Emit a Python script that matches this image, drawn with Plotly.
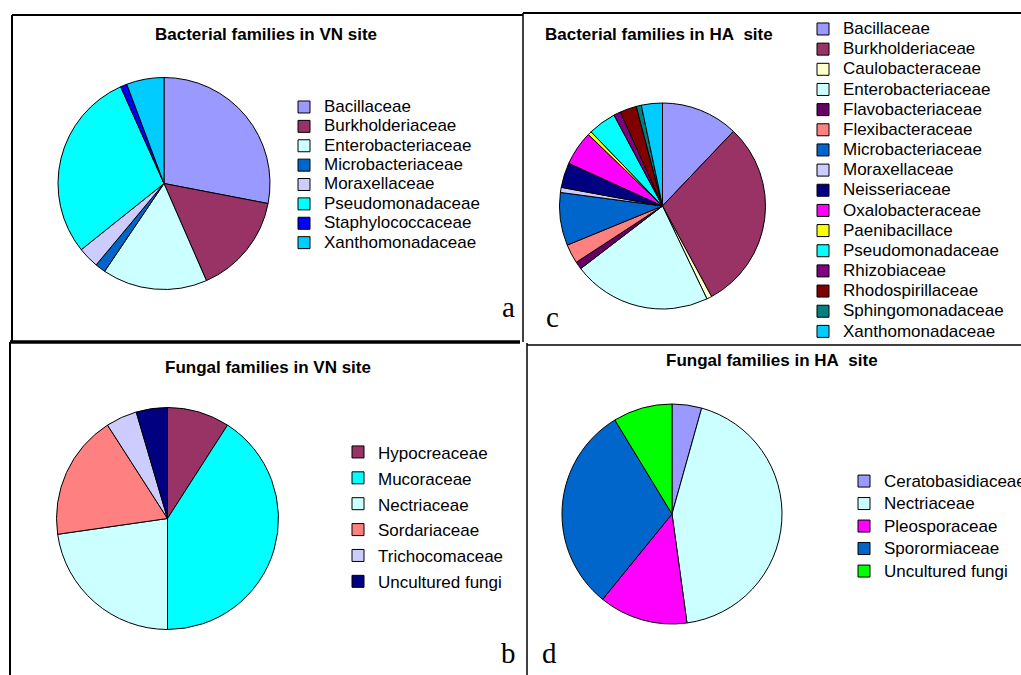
import plotly.graph_objects as go

W, H = 1021, 675

# ---------------- data ----------------
vn_bact_labels = ["Bacillaceae", "Burkholderiaceae", "Enterobacteriaceae", "Microbacteriaceae",
                  "Moraxellaceae", "Pseudomonadaceae", "Staphylococcaceae", "Xanthomonadaceae"]
vn_bact_values = [28.0, 15.4, 16.0, 1.6, 3.2, 29.0, 1.0, 5.7]

ha_bact_labels = ["Bacillaceae", "Burkholderiaceae", "Caulobacteraceae", "Enterobacteriaceae",
                  "Flavobacteriaceae", "Flexibacteraceae", "Microbacteriaceae", "Moraxellaceae",
                  "Neisseriaceae", "Oxalobacteraceae", "Paenibacillace", "Pseudomonadaceae",
                  "Rhizobiaceae", "Rhodospirillaceae", "Sphingomonadaceae", "Xanthomonadaceae"]
ha_bact_values = [12.1, 30.0, 0.8, 21.7, 1.2, 3.0, 8.3, 0.8, 3.9, 5.4, 0.6, 4.4, 1.1, 2.6, 0.8, 3.3]

vn_fung_labels = ["Hypocreaceae", "Mucoraceae", "Nectriaceae", "Sordariaceae",
                  "Trichocomaceae", "Uncultured fungi"]
vn_fung_values = [2, 9, 5, 4, 1, 1]

ha_fung_labels = ["Ceratobasidiaceae", "Nectriaceae", "Pleosporaceae", "Sporormiaceae",
                  "Uncultured fungi"]
ha_fung_values = [1, 10, 3, 7, 2]

# ---------------- styles ----------------
family_colors = {
    "Bacillaceae": "#9999FF", "Burkholderiaceae": "#993366", "Caulobacteraceae": "#FFFFCC",
    "Enterobacteriaceae": "#CCFFFF", "Flavobacteriaceae": "#660066", "Flexibacteraceae": "#FF8080",
    "Microbacteriaceae": "#0066CC", "Moraxellaceae": "#CCCCFF", "Neisseriaceae": "#000080",
    "Oxalobacteraceae": "#FF00FF", "Paenibacillace": "#FFFF00", "Pseudomonadaceae": "#00FFFF",
    "Rhizobiaceae": "#800080", "Rhodospirillaceae": "#800000", "Sphingomonadaceae": "#008080",
    "Xanthomonadaceae": "#00CCFF", "Staphylococcaceae": "#0000FF",
}
vn_fung_colors = ["#993366", "#00FFFF", "#CCFFFF", "#FF8080", "#CCCCFF", "#000080"]
ha_fung_colors = ["#9999FF", "#CCFFFF", "#FF00FF", "#0066CC", "#00FF00"]

FONT = "Liberation Sans"
LEG_TXT = 17
# distinct (but identical-looking) colour spellings keep labels unique per legend
TXT_COLOR = {"legend": "black", "legend2": "#000", "legend3": "#000000", "legend4": "rgb(0,0,0)"}


def px_x(x):
    return x / W


def px_y(y):
    return 1 - y / H


def styled(labels, legend):
    return [f"<span style='font-size:{LEG_TXT}px;color:{TXT_COLOR[legend]}'>{s}</span>"
            for s in labels]


def pie(labels, values, colors, cx, cy, r, legend):
    return go.Pie(
        labels=styled(labels, legend), values=values, sort=False, direction="clockwise",
        rotation=0,
        marker=dict(colors=colors, line=dict(color="black", width=1)),
        textinfo="none", hoverinfo="label+percent",
        domain=dict(x=[px_x(cx - r), px_x(cx + r)], y=[px_y(cy + r), px_y(cy - r)]),
        legend=legend, showlegend=True,
    )


fig = go.Figure()
fig.add_trace(pie(vn_bact_labels, vn_bact_values, [family_colors[l] for l in vn_bact_labels],
                  164, 183.5, 106, "legend"))
fig.add_trace(pie(ha_bact_labels, ha_bact_values, [family_colors[l] for l in ha_bact_labels],
                  662.5, 206, 103, "legend2"))
fig.add_trace(pie(vn_fung_labels, vn_fung_values, vn_fung_colors, 167.5, 518.5, 111, "legend3"))
fig.add_trace(pie(ha_fung_labels, ha_fung_values, ha_fung_colors, 672, 514, 110, "legend4"))


def legend_cfg(x, y, fs):
    return dict(x=px_x(x), y=px_y(y), xanchor="left", yanchor="top",
                font=dict(family=FONT, size=fs, color="black"),
                bgcolor="rgba(0,0,0,0)", borderwidth=0, orientation="v")


# ---------------- shapes (panel frames) ----------------
def line(x0, y0, x1, y1, w=1.5):
    return dict(type="line", xref="paper", yref="paper",
                x0=px_x(x0), y0=px_y(y0), x1=px_x(x1), y1=px_y(y1),
                line=dict(color="black", width=w))


shapes = [
    line(12, 15, 523, 15, 2),
    line(12, 15, 12, 342, 2),
    line(523, 13, 523, 342, 1.5),
    line(523, 13, 1021, 13, 2),
    line(10, 342, 520, 342, 3.5),
    line(10, 342, 10, 675, 2),
    line(527, 343, 527, 675, 1.5),
    line(527, 345, 1021, 345, 1.5),
]


def title(text, x, y, anchor="center"):
    return dict(text=f"<b>{text}</b>", x=px_x(x), y=px_y(y), xref="paper", yref="paper",
                xanchor=anchor, yanchor="middle", showarrow=False,
                font=dict(family=FONT, size=17, color="black"))


def letter(text, x, y):
    return dict(text=text, x=px_x(x), y=px_y(y), xref="paper", yref="paper",
                xanchor="center", yanchor="middle", showarrow=False,
                font=dict(family="Liberation Serif", size=29, color="black"))


annotations = [
    title("Bacterial families in VN site", 265.5, 35),
    title("Bacterial families in HA&nbsp; site", 543, 34, "left"),
    title("Fungal families in VN site", 268, 367),
    title("Fungal families in HA&nbsp; site", 772, 360),
    letter("a", 508, 307),
    letter("c", 552, 317),
    letter("b", 508, 653),
    letter("d", 549, 653),
]

fig.update_layout(
    width=W, height=H,
    margin=dict(l=0, r=0, t=0, b=0, autoexpand=False),
    paper_bgcolor="white", plot_bgcolor="white",
    legend=legend_cfg(284, 92.3, 12.6),
    legend2=legend_cfg(803, 13.9, 13.2),
    legend3=legend_cfg(338, 434, 17.6),
    legend4=legend_cfg(844, 464.8, 15),
    shapes=shapes, annotations=annotations,
)

fig.write_html(
    "out.html",
    config={"displayModeBar": False},
    post_script="document.body.style.margin='0';document.body.style.padding='0';"
                "document.documentElement.style.overflow='hidden';",
)
